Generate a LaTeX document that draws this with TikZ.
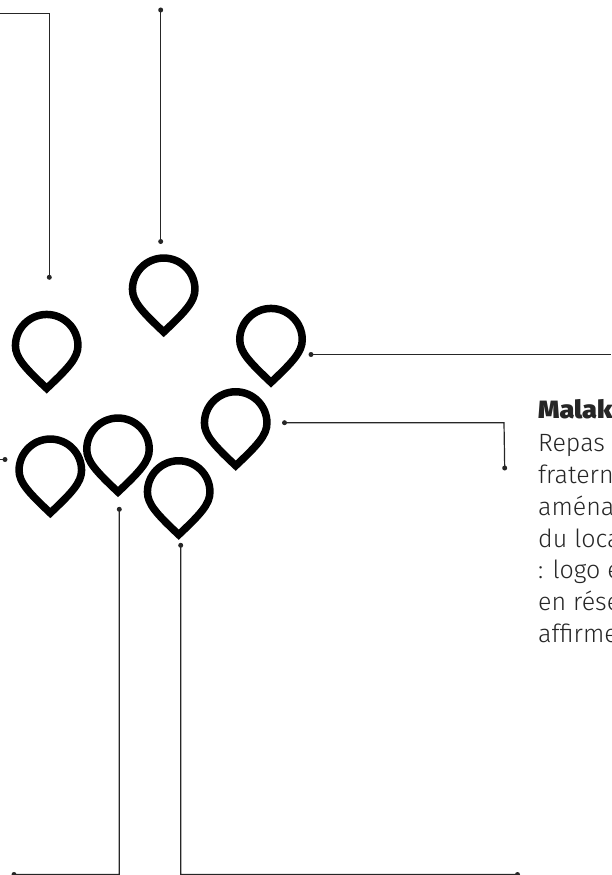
\documentclass[tikz,border=0pt]{standalone}
\usepackage{fontspec}
\setmainfont{Fira Sans Light}[BoldFont={Fira Sans Black},BoldFeatures={FakeStretch=1.08}]
\tikzset{
  x=1pt,y=1pt,
  inkline/.style={draw=black!85,line width=1.2pt},
  dotmark/.style={circle,fill=black!85,inner sep=0pt,minimum size=5pt},
  pinmark/.pic={\draw[line width=7.5pt,black,miter limit=10]
     (0,5.3) .. controls (-22,26) and (-31.25,36) .. (-31.25,48)
     arc[start angle=180,end angle=0,radius=31.25]
     .. controls (31.25,36) and (22,26) .. cycle;},
  textline/.style={anchor=base west,inner sep=0pt,text=black!85,font=\fontsize{25}{30}\selectfont}
}
\begin{document}
\begin{tikzpicture}
\useasboundingbox (0,0) rectangle (611,-875);
\clip (0,0) rectangle (611,-875);
% pins
\pic at (163.7,-337.3) {pinmark};
\pic at (46.7,-393.7) {pinmark};
\pic at (271,-387.7) {pinmark};
\pic at (235.7,-471) {pinmark};
\pic at (50.3,-518.3) {pinmark};
\pic at (118,-497.3) {pinmark};
\pic at (178.7,-540) {pinmark};
% dots
\node[dotmark] (a) at (49.3,-277.3) {};
\node[dotmark] (b1) at (160.7,-10) {};
\node[dotmark] (b2) at (160.7,-241.5) {};
\node[dotmark] (c) at (311,-354.5) {};
\node[dotmark] (d1) at (284.5,-422.7) {};
\node[dotmark] (d2) at (504.7,-468) {};
\node[dotmark] (e) at (5,-459.5) {};
\node[dotmark] (f1) at (119.3,-509.3) {};
\node[dotmark] (f2) at (14,-874.5) {};
\node[dotmark] (g1) at (180.7,-545.3) {};
\node[dotmark] (g2) at (517.5,-874.5) {};
% free ends and corners
\coordinate (a0) at (0,-13.3);
\coordinate (a1) at (49.3,-13.3);
\coordinate (c0) at (611,-354.5);
\coordinate (d0) at (504,-422.7);
\coordinate (e0) at (0,-459.5);
\coordinate (f0) at (119.3,-874.4);
\coordinate (g0) at (180.7,-874.4);
% connectors
\draw[inkline] (a0) -- (a1) -- (a.center);
\draw[inkline] (b1.center) -- (b2.center);
\draw[inkline] (c.center) -- (c0);
\draw[inkline] (d1.center) -- (d0) -- (d2.center);
\draw[inkline] (e0) -- (e.center);
\draw[inkline] (f1.center) -- (f0) -- (f2.center);
\draw[inkline] (g1.center) -- (g0) -- (g2.center);
% text
\node[textline,font=\fontsize{25}{30}\selectfont\bfseries] (t0) at (538,-418) {Malak};
\node[textline] (t1) at (538,-451) {Repas};
\node[textline] (t2) at (538,-483) {fratern};
\node[textline] (t3) at (538,-515) {aména};
\node[textline] (t4) at (538,-547) {du loca};
\node[textline] (t5) at (538,-578) {: logo e};
\node[textline] (t6) at (538,-610) {en rése};
\node[textline] (t7) at (538,-642) {affirme};
\end{tikzpicture}
\end{document}
